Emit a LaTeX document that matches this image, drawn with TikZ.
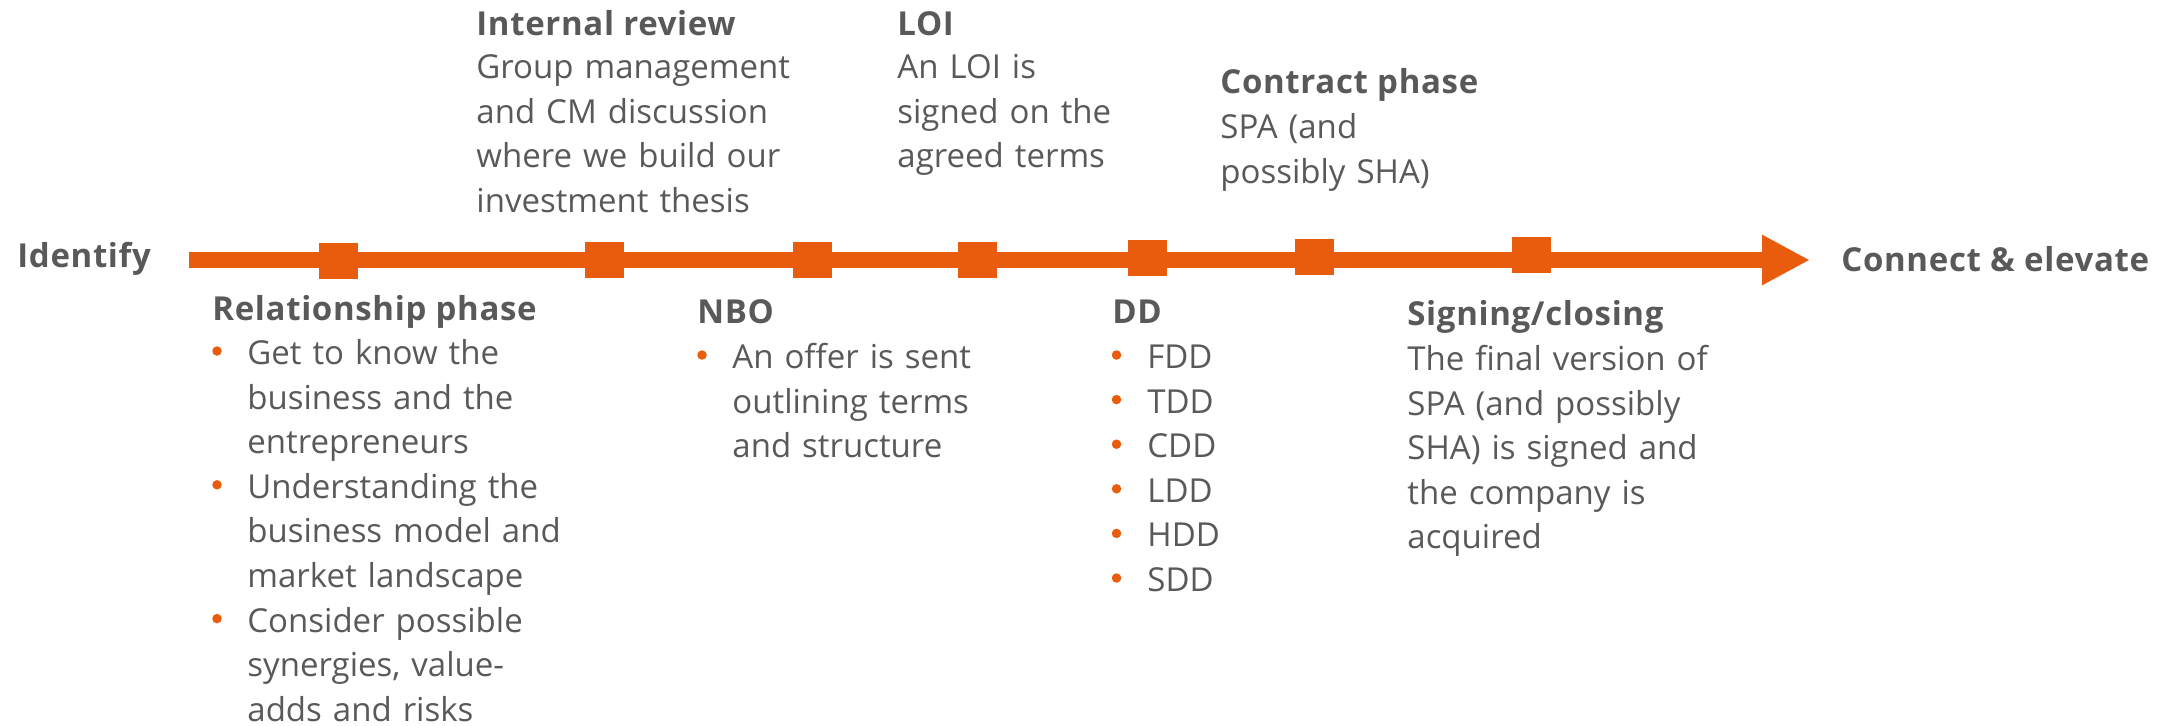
\documentclass[tikz,border=0pt]{standalone}
\usepackage{fontspec}
\setmainfont{Open Sans}[BoldFeatures={LetterSpace=2}]
\usetikzlibrary{arrows.meta}
\definecolor{tlorange}{RGB}{233,92,13}
\definecolor{txtgray}{RGB}{89,89,89}
\begin{document}
\begin{tikzpicture}[x=0.5pt,y=-0.5pt,
  ttl/.style={font=\fontsize{16.5pt}{22.3pt}\selectfont\bfseries, text=txtgray, anchor=base west, inner sep=0pt},
  body/.style={font={\fontsize{16.5pt}{22.3pt}\selectfont\setlength\parindent{0pt}}, text=txtgray, anchor=north west, inner sep=0pt, text width=200pt, align=left, execute at begin node={\rule{0pt}{16pt}}},
  bul/.style={circle, fill=tlorange, inner sep=0pt, minimum size=4.75pt},
  sq/.style={fill=tlorange, minimum width=19.5pt, minimum height=18pt, inner sep=0pt},
  timeline/.style={tlorange, line width=8pt, -{Triangle[length=24pt,width=23.5pt]}}
]
\useasboundingbox (0,0) rectangle (2174,725);
% timeline
\coordinate (start) at (189,260);
\coordinate (end) at (1810,260);
\draw[timeline] (start) -- (end);
\node[sq] (s1) at (338,261) {};
\node[sq] (s2) at (604,260) {};
\node[sq] (s3) at (812,260) {};
\node[sq] (s4) at (977,260) {};
\node[sq] (s5) at (1147,258) {};
\node[sq] (s6) at (1314,257) {};
\node[sq] (s7) at (1531,255) {};
% end labels
\node[ttl] (identify) at (17,267) {Identify};
\node[ttl] (connect) at (1841,271) {Connect \& elevate};
% top blocks
\node[ttl] (irT) at (476,35) {Internal review};
\node[body] (irB) at (476,46) {Group management\\and CM discussion\\where we build our\\investment thesis};
\node[ttl] (loiT) at (897,35) {LOI};
\node[body] (loiB) at (897,46) {An LOI is\\signed on the\\agreed terms};
\node[ttl] (cpT) at (1220,93) {Contract phase};
\node[body] (cpB) at (1220,106) {SPA (and\\possibly SHA)};
% bottom blocks
\node[ttl] (rpT) at (212,320) {Relationship phase};
\node[body] (rpB) at (247,332) {Get to know the\\business and the\\entrepreneurs\\Understanding the\\business model and\\market landscape\\Consider possible\\synergies, value-\\adds and risks};
\node[bul] (rpb1) at (217,351) {};
\node[bul] (rpb2) at (217,484.8) {};
\node[bul] (rpb3) at (217,618.6) {};
\node[ttl] (nboT) at (697,323) {NBO};
\node[body] (nboB) at (732,336) {An offer is sent\\outlining terms\\and structure};
\node[bul] (nbob1) at (702,355) {};
\node[ttl] (ddT) at (1112,323) {DD};
\node[body] (ddB) at (1147,336) {FDD\\TDD\\CDD\\LDD\\HDD\\SDD};
\foreach \k in {0,...,5} {
  \node[bul] (ddb\k) at (1116.5,355+44.6*\k) {};
}
\node[ttl] (scT) at (1407,325) {Signing/closing};
\node[body] (scB) at (1407,338) {The final version of\\SPA (and possibly\\SHA) is signed and\\the company is\\acquired};
\end{tikzpicture}
\end{document}
